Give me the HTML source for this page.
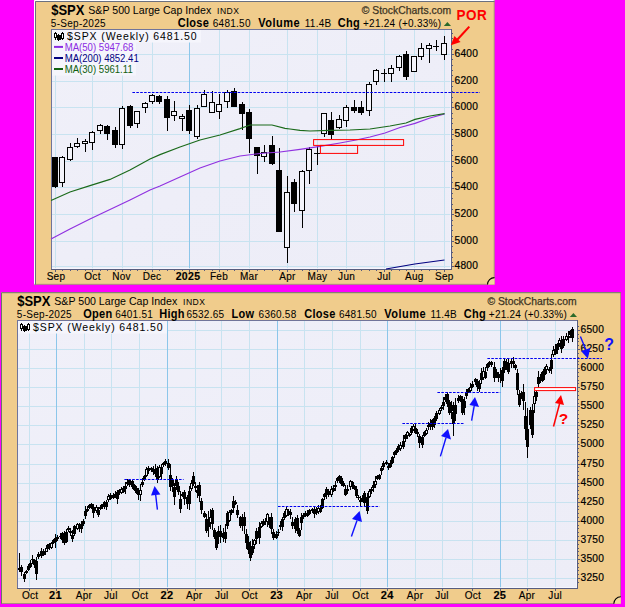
<!DOCTYPE html>
<html><head><meta charset="utf-8"><title>SPX</title><style>html,body{margin:0;padding:0;background:#ff00ff;}svg{display:block;}</style></head><body>
<svg width="625" height="607" viewBox="0 0 625 607" font-family="Liberation Sans, sans-serif">
<defs><linearGradient id="pbg" x1="0" y1="0" x2="1" y2="1"><stop offset="0" stop-color="#f0f0f9"/><stop offset="0.5" stop-color="#eeeef8"/><stop offset="1" stop-color="#ededf7"/></linearGradient></defs>
<rect width="625" height="607" fill="#ff00ff"/>
<rect x="34" y="0" width="460.5" height="284.6" fill="#f0cc8c"/>
<path d="M34.5,284.6V0.5H494.5" stroke="#ffffff" stroke-width="1" fill="none"/>
<path d="M35.5,284.6V1.5H494.5" stroke="#6a7080" stroke-width="1" fill="none"/>
<path d="M494.2,0V284.3H34" stroke="#7a8068" stroke-width="0.6" fill="none"/>
<path d="M487.5,284.6A7,7 0 0 1 494.5,277.6L494.5,284.6Z" fill="#f3d79c"/>
<path d="M487.5,284.6A7,7 0 0 1 494.5,277.6" stroke="#000" stroke-width="1.1" fill="none"/>
<rect x="51" y="29" width="401.0" height="241.0" fill="url(#pbg)"/>
<path d="M51,54.5H451.5M51,81.5H451.5M51,107.5H451.5M51,134.5H451.5M51,161.5H451.5M51,187.5H451.5M51,214.5H451.5M51,241.5H451.5M51,266.5H451.5M55.5,29V269.5M92.5,29V269.5M122.5,29V269.5M152.5,29V269.5M189.5,29V269.5M219.5,29V269.5M249.5,29V269.5M287.5,29V269.5M317.5,29V269.5M346.5,29V269.5M384.5,29V269.5M414.5,29V269.5M444.5,29V269.5" stroke="#b0dcec" stroke-width="1" fill="none" opacity="0.62" shape-rendering="crispEdges"/>
<path d="M189.5,29V269.5" stroke="#8cc6ea" stroke-width="1" fill="none" shape-rendering="crispEdges"/>
<path d="M51.5,269.5V29.5H451.5" stroke="#70749a" stroke-width="1" fill="none" shape-rendering="crispEdges"/>
<path d="M450.5,30V268.5H52" stroke="#fafaff" stroke-width="1" fill="none" opacity="0.7" shape-rendering="crispEdges"/>
<path d="M451.5,29V269.5H51" stroke="#585c7e" stroke-width="1" fill="none" shape-rendering="crispEdges"/>
<g shape-rendering="crispEdges">
<rect x="55" y="157" width="1" height="31" fill="#000"/>
<rect x="52" y="157" width="6" height="30" fill="#000"/>
<rect x="62" y="156" width="1" height="31" fill="#000"/>
<rect x="59" y="157" width="6" height="26" fill="#000"/>
<rect x="60" y="158" width="4" height="24" fill="#f4f4fb"/>
<rect x="70" y="143" width="1" height="18" fill="#000"/>
<rect x="67" y="147" width="6" height="13" fill="#000"/>
<rect x="68" y="148" width="4" height="11" fill="#f4f4fb"/>
<rect x="77" y="138" width="1" height="10" fill="#000"/>
<rect x="74" y="143" width="6" height="4" fill="#000"/>
<rect x="75" y="144" width="4" height="2" fill="#f4f4fb"/>
<rect x="85" y="139" width="1" height="13" fill="#000"/>
<rect x="82" y="141" width="6" height="3" fill="#000"/>
<rect x="83" y="142" width="4" height="1" fill="#f4f4fb"/>
<rect x="92" y="131" width="1" height="19" fill="#000"/>
<rect x="89" y="132" width="6" height="11" fill="#000"/>
<rect x="90" y="133" width="4" height="9" fill="#f4f4fb"/>
<rect x="100" y="124" width="1" height="10" fill="#000"/>
<rect x="97" y="125" width="6" height="6" fill="#000"/>
<rect x="98" y="126" width="4" height="4" fill="#f4f4fb"/>
<rect x="107" y="125" width="1" height="15" fill="#000"/>
<rect x="104" y="126" width="6" height="8" fill="#000"/>
<rect x="115" y="127" width="1" height="21" fill="#000"/>
<rect x="112" y="130" width="6" height="15" fill="#000"/>
<rect x="122" y="106" width="1" height="43" fill="#000"/>
<rect x="119" y="108" width="6" height="37" fill="#000"/>
<rect x="120" y="109" width="4" height="35" fill="#f4f4fb"/>
<rect x="130" y="105" width="1" height="23" fill="#000"/>
<rect x="127" y="106" width="6" height="20" fill="#000"/>
<rect x="137" y="111" width="1" height="17" fill="#000"/>
<rect x="134" y="111" width="6" height="13" fill="#000"/>
<rect x="135" y="112" width="4" height="11" fill="#f4f4fb"/>
<rect x="145" y="102" width="1" height="11" fill="#000"/>
<rect x="142" y="103" width="6" height="5" fill="#000"/>
<rect x="143" y="104" width="4" height="3" fill="#f4f4fb"/>
<rect x="152" y="94" width="1" height="10" fill="#000"/>
<rect x="149" y="95" width="6" height="7" fill="#000"/>
<rect x="150" y="96" width="4" height="5" fill="#f4f4fb"/>
<rect x="159" y="95" width="1" height="9" fill="#000"/>
<rect x="156" y="96" width="6" height="6" fill="#000"/>
<rect x="167" y="96" width="1" height="35" fill="#000"/>
<rect x="164" y="99" width="6" height="19" fill="#000"/>
<rect x="174" y="101" width="1" height="20" fill="#000"/>
<rect x="171" y="111" width="6" height="5" fill="#000"/>
<rect x="172" y="112" width="4" height="3" fill="#f4f4fb"/>
<rect x="182" y="114" width="1" height="17" fill="#000"/>
<rect x="179" y="116" width="6" height="3" fill="#000"/>
<rect x="180" y="117" width="4" height="1" fill="#f4f4fb"/>
<rect x="189" y="105" width="1" height="29" fill="#000"/>
<rect x="186" y="110" width="6" height="21" fill="#000"/>
<rect x="197" y="105" width="1" height="34" fill="#000"/>
<rect x="194" y="108" width="6" height="29" fill="#000"/>
<rect x="195" y="109" width="4" height="27" fill="#f4f4fb"/>
<rect x="204" y="90" width="1" height="17" fill="#000"/>
<rect x="201" y="94" width="6" height="13" fill="#000"/>
<rect x="202" y="95" width="4" height="11" fill="#f4f4fb"/>
<rect x="212" y="91" width="1" height="22" fill="#000"/>
<rect x="209" y="102" width="6" height="11" fill="#000"/>
<rect x="210" y="103" width="4" height="9" fill="#f4f4fb"/>
<rect x="219" y="94" width="1" height="25" fill="#000"/>
<rect x="216" y="104" width="6" height="8" fill="#000"/>
<rect x="217" y="105" width="4" height="6" fill="#f4f4fb"/>
<rect x="227" y="90" width="1" height="18" fill="#000"/>
<rect x="224" y="92" width="6" height="10" fill="#000"/>
<rect x="225" y="93" width="4" height="8" fill="#f4f4fb"/>
<rect x="234" y="88" width="1" height="19" fill="#000"/>
<rect x="231" y="91" width="6" height="16" fill="#000"/>
<rect x="242" y="102" width="1" height="28" fill="#000"/>
<rect x="239" y="104" width="6" height="10" fill="#000"/>
<rect x="249" y="109" width="1" height="44" fill="#000"/>
<rect x="246" y="112" width="6" height="27" fill="#000"/>
<rect x="257" y="147" width="1" height="27" fill="#000"/>
<rect x="254" y="147" width="6" height="9" fill="#000"/>
<rect x="264" y="145" width="1" height="17" fill="#000"/>
<rect x="261" y="152" width="6" height="5" fill="#000"/>
<rect x="262" y="153" width="4" height="3" fill="#f4f4fb"/>
<rect x="272" y="136" width="1" height="29" fill="#000"/>
<rect x="269" y="145" width="6" height="19" fill="#000"/>
<rect x="279" y="148" width="1" height="84" fill="#000"/>
<rect x="276" y="170" width="6" height="62" fill="#000"/>
<rect x="287" y="176" width="1" height="87" fill="#000"/>
<rect x="284" y="192" width="6" height="56" fill="#000"/>
<rect x="285" y="193" width="4" height="54" fill="#f4f4fb"/>
<rect x="294" y="179" width="1" height="33" fill="#000"/>
<rect x="291" y="182" width="6" height="22" fill="#000"/>
<rect x="302" y="170" width="1" height="58" fill="#000"/>
<rect x="299" y="171" width="6" height="40" fill="#000"/>
<rect x="300" y="172" width="4" height="38" fill="#f4f4fb"/>
<rect x="309" y="147" width="1" height="37" fill="#000"/>
<rect x="306" y="149" width="6" height="22" fill="#000"/>
<rect x="307" y="150" width="4" height="20" fill="#f4f4fb"/>
<rect x="317" y="146" width="1" height="19" fill="#000"/>
<rect x="314" y="153" width="6" height="1" fill="#000"/>
<rect x="324" y="113" width="1" height="24" fill="#000"/>
<rect x="321" y="113" width="6" height="21" fill="#000"/>
<rect x="322" y="114" width="4" height="19" fill="#f4f4fb"/>
<rect x="331" y="112" width="1" height="27" fill="#000"/>
<rect x="328" y="120" width="6" height="15" fill="#000"/>
<rect x="339" y="115" width="1" height="14" fill="#000"/>
<rect x="336" y="119" width="6" height="9" fill="#000"/>
<rect x="337" y="120" width="4" height="7" fill="#f4f4fb"/>
<rect x="346" y="105" width="1" height="22" fill="#000"/>
<rect x="343" y="107" width="6" height="14" fill="#000"/>
<rect x="344" y="108" width="4" height="12" fill="#f4f4fb"/>
<rect x="354" y="100" width="1" height="13" fill="#000"/>
<rect x="351" y="107" width="6" height="4" fill="#000"/>
<rect x="361" y="101" width="1" height="14" fill="#000"/>
<rect x="358" y="107" width="6" height="6" fill="#000"/>
<rect x="369" y="82" width="1" height="34" fill="#000"/>
<rect x="366" y="84" width="6" height="27" fill="#000"/>
<rect x="367" y="85" width="4" height="25" fill="#f4f4fb"/>
<rect x="376" y="69" width="1" height="16" fill="#000"/>
<rect x="373" y="70" width="6" height="12" fill="#000"/>
<rect x="374" y="71" width="4" height="10" fill="#f4f4fb"/>
<rect x="384" y="69" width="1" height="13" fill="#000"/>
<rect x="381" y="73" width="6" height="1" fill="#000"/>
<rect x="391" y="65" width="1" height="17" fill="#000"/>
<rect x="388" y="68" width="6" height="6" fill="#000"/>
<rect x="389" y="69" width="4" height="4" fill="#f4f4fb"/>
<rect x="399" y="55" width="1" height="16" fill="#000"/>
<rect x="396" y="56" width="6" height="12" fill="#000"/>
<rect x="397" y="57" width="4" height="10" fill="#f4f4fb"/>
<rect x="406" y="51" width="1" height="29" fill="#000"/>
<rect x="403" y="54" width="6" height="23" fill="#000"/>
<rect x="414" y="56" width="1" height="16" fill="#000"/>
<rect x="411" y="56" width="6" height="16" fill="#000"/>
<rect x="412" y="57" width="4" height="14" fill="#f4f4fb"/>
<rect x="421" y="43" width="1" height="17" fill="#000"/>
<rect x="418" y="48" width="6" height="9" fill="#000"/>
<rect x="419" y="49" width="4" height="7" fill="#f4f4fb"/>
<rect x="429" y="43" width="1" height="20" fill="#000"/>
<rect x="426" y="45" width="6" height="4" fill="#000"/>
<rect x="427" y="46" width="4" height="2" fill="#f4f4fb"/>
<rect x="436" y="40" width="1" height="11" fill="#000"/>
<rect x="433" y="46" width="6" height="1" fill="#000"/>
<rect x="444" y="36" width="1" height="24" fill="#000"/>
<rect x="441" y="43" width="6" height="12" fill="#000"/>
<rect x="442" y="44" width="4" height="10" fill="#f4f4fb"/>
</g>
<path d="M386.0,269.0 L414.8,264.0 L444.5,260.0" stroke="#000080" stroke-width="1.15" fill="none"/>
<path d="M51.0,239.0 L70.0,229.0 L90.0,219.0 L110.0,209.5 L130.0,200.0 L150.0,190.0 L160.0,186.0 L180.0,177.0 L200.0,168.0 L220.0,161.0 L240.0,156.0 L260.0,153.5 L280.0,152.0 L300.0,149.4 L320.0,146.4 L340.0,143.0 L356.0,140.0 L370.0,137.0 L385.0,133.0 L400.0,127.5 L415.0,123.4 L430.0,118.0 L444.6,114.0" stroke="#9030e0" stroke-width="1.15" fill="none"/>
<path d="M51.0,200.5 L70.0,192.0 L90.0,185.6 L110.0,179.4 L130.0,170.0 L150.0,159.0 L160.0,154.6 L180.0,147.0 L200.0,140.0 L220.0,135.0 L240.0,128.6 L250.0,125.0 L272.0,125.0 L285.0,128.4 L290.0,129.0 L300.0,130.4 L310.0,131.0 L330.0,130.4 L350.0,130.0 L370.0,129.0 L390.0,126.0 L406.0,123.0 L415.0,119.4 L430.0,116.0 L444.6,113.6" stroke="#1a6a1a" stroke-width="1.15" fill="none"/>
<path d="M132.4,92.5H480" stroke="#0000f0" stroke-width="1" stroke-dasharray="2.6,1.3" fill="none"/>
<rect x="313.6" y="139.6" width="90" height="5.8" fill="none" stroke="#ff0000" stroke-width="1"/>
<rect x="320.4" y="145.4" width="37.2" height="8" fill="none" stroke="#ff0000" stroke-width="1"/>
<path d="M452.0,266.5h2M452.0,262.5h1M452.0,257.5h1M452.0,252.5h1M452.0,246.5h1M452.0,241.5h2M452.0,236.5h1M452.0,230.5h1M452.0,225.5h1M452.0,220.5h1M452.0,214.5h2M452.0,209.5h1M452.0,204.5h1M452.0,198.5h1M452.0,193.5h1M452.0,188.5h2M452.0,182.5h1M452.0,177.5h1M452.0,171.5h1M452.0,166.5h1M452.0,161.5h2M452.0,155.5h1M452.0,150.5h1M452.0,145.5h1M452.0,139.5h1M452.0,134.5h2M452.0,129.5h1M452.0,123.5h1M452.0,118.5h1M452.0,113.5h1M452.0,107.5h2M452.0,102.5h1M452.0,97.5h1M452.0,91.5h1M452.0,86.5h1M452.0,81.5h2M452.0,75.5h1M452.0,70.5h1M452.0,65.5h1M452.0,59.5h1M452.0,54.5h2M452.0,49.5h1M452.0,43.5h1M452.0,38.5h1M452.0,33.5h1M55.5,270.0v1M62.5,270.0v1M70.5,270.0v1M77.5,270.0v1M85.5,270.0v1M92.5,270.0v1M100.5,270.0v1M107.5,270.0v1M115.5,270.0v1M122.5,270.0v1M130.5,270.0v1M137.5,270.0v1M145.5,270.0v1M152.5,270.0v1M159.5,270.0v1M167.5,270.0v1M174.5,270.0v1M182.5,270.0v1M189.5,270.0v1M197.5,270.0v1M204.5,270.0v1M212.5,270.0v1M219.5,270.0v1M227.5,270.0v1M234.5,270.0v1M242.5,270.0v1M249.5,270.0v1M257.5,270.0v1M264.5,270.0v1M272.5,270.0v1M279.5,270.0v1M287.5,270.0v1M294.5,270.0v1M302.5,270.0v1M309.5,270.0v1M317.5,270.0v1M324.5,270.0v1M331.5,270.0v1M339.5,270.0v1M346.5,270.0v1M354.5,270.0v1M361.5,270.0v1M369.5,270.0v1M376.5,270.0v1M384.5,270.0v1M391.5,270.0v1M399.5,270.0v1M406.5,270.0v1M414.5,270.0v1M421.5,270.0v1M429.5,270.0v1M436.5,270.0v1M444.5,270.0v1M55.5,270.0v2M92.5,270.0v2M122.5,270.0v2M152.5,270.0v2M189.5,270.0v2M219.5,270.0v2M249.5,270.0v2M287.5,270.0v2M317.5,270.0v2M346.5,270.0v2M384.5,270.0v2M414.5,270.0v2M444.5,270.0v2" stroke="#585c7e" stroke-width="1" fill="none" shape-rendering="crispEdges"/>
<text transform="translate(454.5,56.9) scale(1.02,1)" font-size="10" letter-spacing="0.25" stroke="#000" stroke-width="0.2">6400</text>
<text transform="translate(454.5,83.9) scale(1.02,1)" font-size="10" letter-spacing="0.25" stroke="#000" stroke-width="0.2">6200</text>
<text transform="translate(454.5,109.9) scale(1.02,1)" font-size="10" letter-spacing="0.25" stroke="#000" stroke-width="0.2">6000</text>
<text transform="translate(454.5,136.9) scale(1.02,1)" font-size="10" letter-spacing="0.25" stroke="#000" stroke-width="0.2">5800</text>
<text transform="translate(454.5,163.9) scale(1.02,1)" font-size="10" letter-spacing="0.25" stroke="#000" stroke-width="0.2">5600</text>
<text transform="translate(454.5,189.9) scale(1.02,1)" font-size="10" letter-spacing="0.25" stroke="#000" stroke-width="0.2">5400</text>
<text transform="translate(454.5,216.9) scale(1.02,1)" font-size="10" letter-spacing="0.25" stroke="#000" stroke-width="0.2">5200</text>
<text transform="translate(454.5,243.9) scale(1.02,1)" font-size="10" letter-spacing="0.25" stroke="#000" stroke-width="0.2">5000</text>
<text transform="translate(454.5,268.6) scale(1.02,1)" font-size="10" letter-spacing="0.25" stroke="#000" stroke-width="0.2">4800</text>
<text x="56" y="279.7" font-size="10" letter-spacing="0.3" text-anchor="middle" stroke="#000" stroke-width="0.15">Sep</text>
<text x="92.5" y="279.7" font-size="10" letter-spacing="0.3" text-anchor="middle" stroke="#000" stroke-width="0.15">Oct</text>
<text x="121.5" y="279.7" font-size="10" letter-spacing="0.3" text-anchor="middle" stroke="#000" stroke-width="0.15">Nov</text>
<text x="152" y="279.7" font-size="10" letter-spacing="0.3" text-anchor="middle" stroke="#000" stroke-width="0.15">Dec</text>
<text x="188" y="279.7" font-size="10.5" letter-spacing="0.3" text-anchor="middle" stroke="#000" stroke-width="0.15" font-weight="bold">2025</text>
<text x="219" y="279.7" font-size="10" letter-spacing="0.3" text-anchor="middle" stroke="#000" stroke-width="0.15">Feb</text>
<text x="249" y="279.7" font-size="10" letter-spacing="0.3" text-anchor="middle" stroke="#000" stroke-width="0.15">Mar</text>
<text x="287.4" y="279.7" font-size="10" letter-spacing="0.3" text-anchor="middle" stroke="#000" stroke-width="0.15">Apr</text>
<text x="317.4" y="279.7" font-size="10" letter-spacing="0.3" text-anchor="middle" stroke="#000" stroke-width="0.15">May</text>
<text x="346.6" y="279.7" font-size="10" letter-spacing="0.3" text-anchor="middle" stroke="#000" stroke-width="0.15">Jun</text>
<text x="384" y="279.7" font-size="10" letter-spacing="0.3" text-anchor="middle" stroke="#000" stroke-width="0.15">Jul</text>
<text x="414.3" y="279.7" font-size="10" letter-spacing="0.3" text-anchor="middle" stroke="#000" stroke-width="0.15">Aug</text>
<text x="444.3" y="279.7" font-size="10" letter-spacing="0.3" text-anchor="middle" stroke="#000" stroke-width="0.15">Sep</text>
<text transform="translate(51.2,14.8) scale(1,1.1)" font-size="13" font-weight="bold">$SPX</text>
<text x="88.3" y="14" font-size="10.6">S&amp;P 500 Large Cap Index</text>
<text x="217" y="14" font-size="8.6" letter-spacing="0.5">INDX</text>
<text x="50.8" y="27.2" font-size="10" letter-spacing="0.28">5-Sep-2025</text>
<text transform="translate(177.7,27) scale(1,1.08)" font-size="11" font-weight="bold" letter-spacing="0.3">Close</text>
<text x="212.8" y="27" font-size="10" letter-spacing="0.25">6481.50</text>
<text transform="translate(258.3,27) scale(1,1.08)" font-size="11" font-weight="bold" letter-spacing="0.5">Volume</text>
<text x="304.8" y="27" font-size="10" letter-spacing="0.25">11.4B</text>
<text transform="translate(337.8,27) scale(1,1.08)" font-size="11" font-weight="bold" letter-spacing="0.3">Chg</text>
<text x="363" y="27" font-size="10" letter-spacing="0.25">+21.24 (+0.33%)</text>
<path d="M443.8,25.9L447.4,22L451,25.9Z" fill="#2a6a2a"/>
<text x="361.8" y="14" font-size="10.35" fill="#3c3424" stroke="#3c3424" stroke-width="0.25">© StockCharts.com</text>
<text transform="translate(456.6,19.9) scale(1,1.08)" font-size="13.5" font-weight="bold" letter-spacing="0.5" fill="#ff0000">POR</text>
<path d="M469.3,26.6L457,40" stroke="#ff0000" stroke-width="2.1" fill="none"/>
<path d="M450.8,45.3L454.4,35.9L460.6,42Z" fill="#ff0000"/>
<rect x="52" y="30" width="149" height="12.5" fill="#f5f5fc"/>
<rect x="52" y="42.5" width="84" height="33" fill="#f5f5fc"/>
<g shape-rendering="crispEdges">
<rect x="55" y="32" width="1" height="8" fill="#000"/>
<rect x="54" y="33" width="3" height="5" fill="#000"/><rect x="55" y="34" width="1" height="3" fill="#fff"/>
<rect x="57" y="35" width="4" height="5" fill="#000"/><rect x="58" y="34" width="1" height="7" fill="#000"/>
<rect x="62" y="32" width="1" height="8" fill="#000"/>
<rect x="61" y="33" width="3" height="6" fill="#000"/><rect x="62" y="34" width="1" height="4" fill="#fff"/>
</g>
<text transform="translate(67.1,40.2)" font-size="10.5" letter-spacing="0.88">$SPX (Weekly) 6481.50</text>
<path d="M54,46.900000000000006H63" stroke="#8a2be2" stroke-width="2"/>
<text transform="translate(64.7,50.7) scale(1,1.1)" font-size="9.6" fill="#8a2be2">MA(50) 5947.68</text>
<path d="M54,58.0H63" stroke="#000080" stroke-width="2"/>
<text transform="translate(64.7,61.8) scale(1,1.1)" font-size="9.6" fill="#000080">MA(200) 4852.41</text>
<path d="M54,69.0H63" stroke="#106010" stroke-width="2"/>
<text transform="translate(64.7,72.8) scale(1,1.1)" font-size="9.6" fill="#106010">MA(30) 5961.11</text>
<rect x="1" y="292.2" width="619.8" height="311.59999999999997" fill="#f0cc8c"/>
<path d="M1.5,603.8V292.7H620.8" stroke="#6a7868" stroke-width="1" fill="none"/>
<path d="M620.5,292.2V603.5H1" stroke="#7a8068" stroke-width="0.6" fill="none"/>
<path d="M613.8,603.8A7,7 0 0 1 620.8,596.8L620.8,603.8Z" fill="#f3d79c"/>
<path d="M613.8,603.8A7,7 0 0 1 620.8,596.8" stroke="#000" stroke-width="1.1" fill="none"/>
<rect x="17" y="320" width="561.0" height="269.0" fill="url(#pbg)"/>
<path d="M17,578.5H577.5M17,559.5H577.5M17,540.5H577.5M17,521.5H577.5M17,502.5H577.5M17,483.5H577.5M17,464.5H577.5M17,444.5H577.5M17,425.5H577.5M17,406.5H577.5M17,387.5H577.5M17,368.5H577.5M17,349.5H577.5M17,330.5H577.5M29.5,320V588.5M56.5,320V588.5M84.5,320V588.5M111.5,320V588.5M139.5,320V588.5M167.5,320V588.5M195.5,320V588.5M221.5,320V588.5M249.5,320V588.5M277.5,320V588.5M304.5,320V588.5M332.5,320V588.5M360.5,320V588.5M387.5,320V588.5M415.5,320V588.5M442.5,320V588.5M472.5,320V588.5M500.5,320V588.5M527.5,320V588.5M555.5,320V588.5" stroke="#b0dcec" stroke-width="1" fill="none" opacity="0.62" shape-rendering="crispEdges"/>
<path d="M56.5,320V588.5M167.5,320V588.5M277.5,320V588.5M387.5,320V588.5M500.5,320V588.5" stroke="#8cc6ea" stroke-width="1" fill="none" shape-rendering="crispEdges"/>
<path d="M17.5,588.5V320.5H577.5" stroke="#70749a" stroke-width="1" fill="none" shape-rendering="crispEdges"/>
<path d="M576.5,321V587.5H18" stroke="#fafaff" stroke-width="1" fill="none" opacity="0.7" shape-rendering="crispEdges"/>
<path d="M577.5,320V588.5H17" stroke="#585c7e" stroke-width="1" fill="none" shape-rendering="crispEdges"/>
<g shape-rendering="crispEdges">
<path d="M19,553h1V572h-1ZM21,565h1V576h-1ZM24,572h1V582h-1ZM26,570h1V574h-1ZM28,564h1V571h-1ZM30,560h1V568h-1ZM32,555h1V564h-1ZM34,559h1V568h-1ZM36,557h1V580h-1ZM38,552h1V559h-1ZM41,548h1V558h-1ZM43,549h1V556h-1ZM45,548h1V555h-1ZM47,544h1V552h-1ZM49,543h1V550h-1ZM51,542h1V549h-1ZM53,539h1V544h-1ZM55,534h1V548h-1ZM57,535h1V541h-1ZM60,533h1V539h-1ZM62,532h1V543h-1ZM64,531h1V545h-1ZM66,529h1V543h-1ZM68,526h1V532h-1ZM70,528h1V536h-1ZM72,530h1V542h-1ZM74,525h1V536h-1ZM77,523h1V530h-1ZM79,523h1V532h-1ZM81,521h1V533h-1ZM83,519h1V526h-1ZM85,506h1V519h-1ZM87,506h1V512h-1ZM89,504h1V509h-1ZM91,503h1V509h-1ZM93,504h1V518h-1ZM96,505h1V513h-1ZM98,507h1V517h-1ZM100,505h1V510h-1ZM102,504h1V509h-1ZM104,501h1V509h-1ZM106,500h1V510h-1ZM108,494h1V502h-1ZM110,493h1V500h-1ZM113,493h1V499h-1ZM115,491h1V498h-1ZM117,490h1V504h-1ZM119,489h1V495h-1ZM121,487h1V494h-1ZM123,486h1V493h-1ZM125,482h1V494h-1ZM127,479h1V486h-1ZM129,479h1V487h-1ZM132,480h1V489h-1ZM134,484h1V491h-1ZM136,486h1V494h-1ZM138,488h1V500h-1ZM140,484h1V501h-1ZM142,478h1V487h-1ZM144,475h1V481h-1ZM146,467h1V477h-1ZM148,466h1V474h-1ZM151,467h1V472h-1ZM153,466h1V475h-1ZM155,464h1V477h-1ZM157,466h1V483h-1ZM159,465h1V478h-1ZM161,464h1V480h-1ZM163,462h1V467h-1ZM165,459h1V466h-1ZM168,459h1V470h-1ZM170,464h1V491h-1ZM172,478h1V492h-1ZM174,483h1V505h-1ZM176,476h1V490h-1ZM178,482h1V495h-1ZM180,491h1V513h-1ZM182,492h1V497h-1ZM184,490h1V505h-1ZM187,495h1V509h-1ZM189,486h1V510h-1ZM191,480h1V491h-1ZM193,472h1V486h-1ZM195,482h1V492h-1ZM197,485h1V498h-1ZM199,482h1V502h-1ZM201,498h1V514h-1ZM204,511h1V518h-1ZM206,514h1V533h-1ZM208,511h1V537h-1ZM210,509h1V529h-1ZM212,508h1V530h-1ZM214,528h1V539h-1ZM216,532h1V550h-1ZM218,526h1V544h-1ZM220,525h1V543h-1ZM223,528h1V542h-1ZM225,524h1V543h-1ZM227,511h1V529h-1ZM229,510h1V522h-1ZM231,509h1V515h-1ZM233,496h1V513h-1ZM235,500h1V505h-1ZM237,505h1V518h-1ZM240,516h1V528h-1ZM242,514h1V531h-1ZM244,512h1V534h-1ZM246,529h1V549h-1ZM248,536h1V554h-1ZM250,541h1V561h-1ZM252,539h1V555h-1ZM254,539h1V549h-1ZM256,528h1V544h-1ZM259,522h1V544h-1ZM261,521h1V528h-1ZM263,519h1V526h-1ZM265,518h1V525h-1ZM267,513h1V527h-1ZM269,517h1V528h-1ZM271,513h1V534h-1ZM273,529h1V540h-1ZM276,531h1V539h-1ZM278,529h1V536h-1ZM280,521h1V530h-1ZM282,517h1V531h-1ZM284,511h1V520h-1ZM286,507h1V517h-1ZM288,509h1V516h-1ZM290,509h1V519h-1ZM292,517h1V529h-1ZM295,517h1V533h-1ZM297,515h1V534h-1ZM299,528h1V537h-1ZM301,513h1V530h-1ZM303,513h1V519h-1ZM305,511h1V517h-1ZM307,510h1V517h-1ZM309,509h1V515h-1ZM312,508h1V513h-1ZM314,507h1V518h-1ZM316,507h1V515h-1ZM318,505h1V514h-1ZM320,505h1V513h-1ZM322,498h1V509h-1ZM324,493h1V500h-1ZM326,487h1V499h-1ZM328,489h1V497h-1ZM331,486h1V497h-1ZM333,485h1V492h-1ZM335,481h1V491h-1ZM337,477h1V483h-1ZM339,475h1V483h-1ZM341,476h1V486h-1ZM343,481h1V487h-1ZM345,485h1V496h-1ZM347,485h1V494h-1ZM350,480h1V490h-1ZM352,481h1V489h-1ZM354,485h1V490h-1ZM356,486h1V498h-1ZM358,495h1V500h-1ZM360,496h1V506h-1ZM362,495h1V502h-1ZM364,491h1V506h-1ZM367,493h1V514h-1ZM369,489h1V498h-1ZM371,487h1V494h-1ZM373,481h1V492h-1ZM375,476h1V488h-1ZM377,475h1V480h-1ZM379,474h1V480h-1ZM381,466h1V475h-1ZM383,461h1V470h-1ZM386,460h1V465h-1ZM388,463h1V470h-1ZM390,460h1V468h-1ZM392,456h1V464h-1ZM394,451h1V458h-1ZM396,448h1V455h-1ZM398,444h1V452h-1ZM400,442h1V451h-1ZM403,435h1V449h-1ZM405,434h1V442h-1ZM407,431h1V439h-1ZM409,433h1V437h-1ZM411,426h1V435h-1ZM413,424h1V431h-1ZM415,424h1V434h-1ZM417,429h1V437h-1ZM419,434h1V448h-1ZM422,435h1V448h-1ZM424,431h1V437h-1ZM426,428h1V435h-1ZM428,422h1V430h-1ZM430,419h1V430h-1ZM432,419h1V430h-1ZM434,416h1V428h-1ZM436,411h1V421h-1ZM439,408h1V415h-1ZM441,405h1V411h-1ZM443,397h1V410h-1ZM445,394h1V402h-1ZM447,392h1V407h-1ZM449,400h1V415h-1ZM451,401h1V419h-1ZM453,402h1V436h-1ZM455,398h1V421h-1ZM458,395h1V403h-1ZM460,395h1V402h-1ZM462,396h1V415h-1ZM464,397h1V415h-1ZM466,389h1V399h-1ZM468,388h1V393h-1ZM470,383h1V393h-1ZM472,381h1V388h-1ZM475,378h1V385h-1ZM477,379h1V391h-1ZM479,380h1V392h-1ZM481,368h1V384h-1ZM483,367h1V380h-1ZM485,367h1V379h-1ZM487,363h1V371h-1ZM489,361h1V367h-1ZM491,361h1V367h-1ZM494,362h1V382h-1ZM496,369h1V378h-1ZM498,372h1V382h-1ZM500,368h1V383h-1ZM502,367h1V387h-1ZM504,358h1V373h-1ZM506,359h1V370h-1ZM508,359h1V374h-1ZM511,358h1V368h-1ZM513,357h1V368h-1ZM515,364h1V370h-1ZM517,369h1V395h-1ZM519,390h1V407h-1ZM521,391h1V399h-1ZM523,384h1V410h-1ZM525,402h1V440h-1ZM527,408h1V458h-1ZM530,407h1V429h-1ZM532,404h1V438h-1ZM534,391h1V413h-1ZM536,388h1V401h-1ZM538,371h1V389h-1ZM540,374h1V383h-1ZM542,371h1V382h-1ZM544,367h1V380h-1ZM546,364h1V374h-1ZM549,367h1V373h-1ZM551,354h1V374h-1ZM553,346h1V357h-1ZM555,344h1V355h-1ZM557,343h1V354h-1ZM559,338h1V347h-1ZM561,336h1V353h-1ZM563,336h1V348h-1ZM566,333h1V341h-1ZM568,331h1V343h-1ZM570,330h1V338h-1ZM572,327h1V342h-1ZM18,568h3V570h-3ZM20,567h3V572h-3ZM23,574h3V579h-3ZM25,571h3V573h-3ZM27,566h3V570h-3ZM29,563h3V567h-3ZM31,559h3V560h-3ZM33,560h3V565h-3ZM35,561h3V574h-3ZM37,554h3V557h-3ZM40,551h3V556h-3ZM42,551h3V555h-3ZM44,551h3V552h-3ZM46,545h3V549h-3ZM48,544h3V548h-3ZM50,543h3V548h-3ZM52,540h3V543h-3ZM54,538h3V542h-3ZM56,537h3V539h-3ZM59,536h3V537h-3ZM61,533h3V540h-3ZM63,534h3V543h-3ZM65,532h3V542h-3ZM67,528h3V530h-3ZM69,531h3V533h-3ZM71,535h3V539h-3ZM73,526h3V534h-3ZM76,524h3V529h-3ZM78,525h3V528h-3ZM80,524h3V529h-3ZM82,521h3V524h-3ZM84,511h3V516h-3ZM86,509h3V511h-3ZM88,505h3V508h-3ZM90,504h3V507h-3ZM92,507h3V513h-3ZM95,507h3V511h-3ZM97,510h3V515h-3ZM99,507h3V509h-3ZM101,504h3V507h-3ZM103,502h3V506h-3ZM105,502h3V507h-3ZM107,496h3V500h-3ZM109,495h3V499h-3ZM112,495h3V498h-3ZM114,494h3V495h-3ZM116,492h3V499h-3ZM118,490h3V493h-3ZM120,489h3V493h-3ZM122,488h3V492h-3ZM124,486h3V489h-3ZM126,482h3V484h-3ZM128,480h3V485h-3ZM131,481h3V487h-3ZM133,485h3V490h-3ZM135,488h3V493h-3ZM137,492h3V495h-3ZM139,490h3V495h-3ZM141,482h3V485h-3ZM143,476h3V480h-3ZM145,469h3V476h-3ZM147,468h3V471h-3ZM150,468h3V470h-3ZM152,469h3V472h-3ZM154,469h3V474h-3ZM156,468h3V480h-3ZM158,467h3V477h-3ZM160,467h3V474h-3ZM162,463h3V465h-3ZM164,461h3V464h-3ZM167,463h3V468h-3ZM169,475h3V487h-3ZM171,480h3V486h-3ZM173,487h3V497h-3ZM175,479h3V486h-3ZM177,486h3V492h-3ZM179,499h3V509h-3ZM181,494h3V496h-3ZM183,492h3V499h-3ZM186,497h3V504h-3ZM188,491h3V504h-3ZM190,483h3V489h-3ZM192,476h3V484h-3ZM194,486h3V488h-3ZM196,490h3V493h-3ZM198,485h3V496h-3ZM200,501h3V510h-3ZM203,513h3V517h-3ZM205,519h3V531h-3ZM207,520h3V527h-3ZM209,517h3V523h-3ZM211,510h3V524h-3ZM213,530h3V537h-3ZM215,536h3V548h-3ZM217,531h3V536h-3ZM219,531h3V537h-3ZM222,533h3V538h-3ZM224,532h3V539h-3ZM226,513h3V526h-3ZM228,512h3V521h-3ZM230,510h3V513h-3ZM232,501h3V508h-3ZM234,502h3V504h-3ZM236,510h3V515h-3ZM239,517h3V526h-3ZM241,517h3V524h-3ZM243,517h3V526h-3ZM245,534h3V543h-3ZM247,542h3V550h-3ZM249,548h3V558h-3ZM251,546h3V553h-3ZM253,540h3V545h-3ZM255,531h3V539h-3ZM258,527h3V538h-3ZM260,523h3V527h-3ZM262,521h3V525h-3ZM264,521h3V522h-3ZM266,514h3V522h-3ZM268,519h3V525h-3ZM270,517h3V529h-3ZM272,532h3V538h-3ZM275,534h3V538h-3ZM277,532h3V533h-3ZM279,525h3V527h-3ZM281,519h3V527h-3ZM283,513h3V518h-3ZM285,509h3V516h-3ZM287,511h3V513h-3ZM289,512h3V515h-3ZM291,522h3V526h-3ZM294,519h3V529h-3ZM296,518h3V531h-3ZM298,530h3V536h-3ZM300,517h3V523h-3ZM302,515h3V517h-3ZM304,513h3V515h-3ZM306,513h3V516h-3ZM308,510h3V514h-3ZM311,509h3V511h-3ZM313,510h3V514h-3ZM315,509h3V513h-3ZM317,508h3V512h-3ZM319,508h3V512h-3ZM321,499h3V508h-3ZM323,494h3V497h-3ZM325,489h3V495h-3ZM327,491h3V495h-3ZM330,489h3V495h-3ZM332,488h3V491h-3ZM334,485h3V487h-3ZM336,478h3V481h-3ZM338,476h3V481h-3ZM340,478h3V484h-3ZM342,483h3V486h-3ZM344,489h3V495h-3ZM346,489h3V491h-3ZM349,481h3V487h-3ZM351,482h3V487h-3ZM353,486h3V489h-3ZM355,489h3V496h-3ZM357,497h3V498h-3ZM359,500h3V502h-3ZM361,498h3V500h-3ZM363,493h3V503h-3ZM366,497h3V511h-3ZM368,491h3V497h-3ZM370,489h3V491h-3ZM372,485h3V488h-3ZM374,481h3V485h-3ZM376,476h3V479h-3ZM378,475h3V479h-3ZM380,468h3V471h-3ZM382,463h3V467h-3ZM385,462h3V464h-3ZM387,466h3V468h-3ZM389,463h3V467h-3ZM391,457h3V463h-3ZM393,452h3V455h-3ZM395,450h3V453h-3ZM397,446h3V450h-3ZM399,445h3V449h-3ZM402,441h3V447h-3ZM404,435h3V439h-3ZM406,432h3V436h-3ZM408,434h3V436h-3ZM410,428h3V433h-3ZM412,426h3V430h-3ZM414,428h3V433h-3ZM416,432h3V434h-3ZM418,436h3V443h-3ZM421,437h3V445h-3ZM423,432h3V436h-3ZM425,430h3V434h-3ZM427,425h3V427h-3ZM429,423h3V426h-3ZM431,420h3V427h-3ZM433,418h3V425h-3ZM435,413h3V419h-3ZM438,410h3V414h-3ZM440,407h3V409h-3ZM442,402h3V406h-3ZM444,397h3V400h-3ZM446,394h3V404h-3ZM448,402h3V413h-3ZM450,405h3V411h-3ZM452,412h3V424h-3ZM454,405h3V414h-3ZM457,398h3V401h-3ZM459,396h3V401h-3ZM461,399h3V413h-3ZM463,401h3V408h-3ZM465,392h3V396h-3ZM467,389h3V392h-3ZM469,387h3V391h-3ZM471,384h3V387h-3ZM474,379h3V382h-3ZM476,381h3V387h-3ZM478,383h3V389h-3ZM480,373h3V380h-3ZM482,371h3V378h-3ZM484,372h3V378h-3ZM486,364h3V368h-3ZM488,362h3V365h-3ZM490,362h3V365h-3ZM493,367h3V378h-3ZM495,372h3V377h-3ZM497,376h3V378h-3ZM499,374h3V378h-3ZM501,370h3V381h-3ZM503,361h3V370h-3ZM505,362h3V368h-3ZM507,363h3V372h-3ZM510,361h3V364h-3ZM512,361h3V364h-3ZM514,365h3V368h-3ZM516,373h3V390h-3ZM518,394h3V405h-3ZM520,393h3V396h-3ZM522,392h3V401h-3ZM524,416h3V429h-3ZM526,429h3V447h-3ZM529,410h3V425h-3ZM531,410h3V435h-3ZM533,396h3V404h-3ZM535,392h3V397h-3ZM537,377h3V384h-3ZM539,378h3V381h-3ZM541,372h3V381h-3ZM543,369h3V375h-3ZM545,366h3V370h-3ZM548,369h3V371h-3ZM550,360h3V369h-3ZM552,350h3V355h-3ZM554,349h3V354h-3ZM556,344h3V350h-3ZM558,340h3V344h-3ZM560,340h3V349h-3ZM562,339h3V346h-3ZM565,336h3V340h-3ZM567,336h3V338h-3ZM569,331h3V335h-3ZM571,329h3V338h-3Z" fill="#000"/>
<path d="M51,544h1V547h-1ZM77,525h1V528h-1ZM96,508h1V510h-1ZM108,497h1V499h-1ZM121,490h1V492h-1ZM140,491h1V494h-1ZM146,470h1V475h-1ZM159,468h1V476h-1ZM191,484h1V488h-1ZM210,518h1V522h-1ZM229,513h1V520h-1ZM254,541h1V544h-1ZM261,524h1V526h-1ZM267,515h1V521h-1ZM286,510h1V515h-1ZM318,509h1V511h-1ZM331,490h1V494h-1ZM350,482h1V486h-1ZM369,492h1V496h-1ZM375,482h1V484h-1ZM400,446h1V448h-1ZM407,433h1V435h-1ZM413,427h1V429h-1ZM426,431h1V433h-1ZM439,411h1V413h-1ZM470,388h1V390h-1ZM483,372h1V377h-1ZM534,397h1V403h-1ZM546,367h1V369h-1ZM553,351h1V354h-1ZM559,341h1V343h-1ZM566,337h1V339h-1Z" fill="#f4f4fb"/>
</g>
<path d="M578.0,582.5h1M578.0,578.5h2M578.0,574.5h1M578.0,570.5h1M578.0,567.5h1M578.0,563.5h1M578.0,559.5h2M578.0,555.5h1M578.0,551.5h1M578.0,548.5h1M578.0,544.5h1M578.0,540.5h2M578.0,536.5h1M578.0,532.5h1M578.0,528.5h1M578.0,525.5h1M578.0,521.5h2M578.0,517.5h1M578.0,513.5h1M578.0,509.5h1M578.0,506.5h1M578.0,502.5h2M578.0,498.5h1M578.0,494.5h1M578.0,490.5h1M578.0,486.5h1M578.0,483.5h2M578.0,479.5h1M578.0,475.5h1M578.0,471.5h1M578.0,467.5h1M578.0,464.5h2M578.0,460.5h1M578.0,456.5h1M578.0,452.5h1M578.0,448.5h1M578.0,444.5h2M578.0,441.5h1M578.0,437.5h1M578.0,433.5h1M578.0,429.5h1M578.0,425.5h2M578.0,422.5h1M578.0,418.5h1M578.0,414.5h1M578.0,410.5h1M578.0,406.5h2M578.0,403.5h1M578.0,399.5h1M578.0,395.5h1M578.0,391.5h1M578.0,387.5h2M578.0,383.5h1M578.0,380.5h1M578.0,376.5h1M578.0,372.5h1M578.0,368.5h2M578.0,364.5h1M578.0,361.5h1M578.0,357.5h1M578.0,353.5h1M578.0,349.5h2M578.0,345.5h1M578.0,341.5h1M578.0,338.5h1M578.0,334.5h1M578.0,330.5h2M578.0,326.5h1M29.5,589.0v2M56.5,589.0v2M84.5,589.0v2M111.5,589.0v2M139.5,589.0v2M167.5,589.0v2M195.5,589.0v2M221.5,589.0v2M249.5,589.0v2M277.5,589.0v2M304.5,589.0v2M332.5,589.0v2M360.5,589.0v2M387.5,589.0v2M415.5,589.0v2M442.5,589.0v2M472.5,589.0v2M500.5,589.0v2M527.5,589.0v2M555.5,589.0v2" stroke="#585c7e" stroke-width="1" fill="none" shape-rendering="crispEdges"/>
<text transform="translate(580.5,333.2) scale(1.02,1)" font-size="10" letter-spacing="0.25" stroke="#000" stroke-width="0.2">6500</text>
<text transform="translate(580.5,352.2) scale(1.02,1)" font-size="10" letter-spacing="0.25" stroke="#000" stroke-width="0.2">6250</text>
<text transform="translate(580.5,371.2) scale(1.02,1)" font-size="10" letter-spacing="0.25" stroke="#000" stroke-width="0.2">6000</text>
<text transform="translate(580.5,390.2) scale(1.02,1)" font-size="10" letter-spacing="0.25" stroke="#000" stroke-width="0.2">5750</text>
<text transform="translate(580.5,409.2) scale(1.02,1)" font-size="10" letter-spacing="0.25" stroke="#000" stroke-width="0.2">5500</text>
<text transform="translate(580.5,428.2) scale(1.02,1)" font-size="10" letter-spacing="0.25" stroke="#000" stroke-width="0.2">5250</text>
<text transform="translate(580.5,447.2) scale(1.02,1)" font-size="10" letter-spacing="0.25" stroke="#000" stroke-width="0.2">5000</text>
<text transform="translate(580.5,467.2) scale(1.02,1)" font-size="10" letter-spacing="0.25" stroke="#000" stroke-width="0.2">4750</text>
<text transform="translate(580.5,486.2) scale(1.02,1)" font-size="10" letter-spacing="0.25" stroke="#000" stroke-width="0.2">4500</text>
<text transform="translate(580.5,505.2) scale(1.02,1)" font-size="10" letter-spacing="0.25" stroke="#000" stroke-width="0.2">4250</text>
<text transform="translate(580.5,524.2) scale(1.02,1)" font-size="10" letter-spacing="0.25" stroke="#000" stroke-width="0.2">4000</text>
<text transform="translate(580.5,543.2) scale(1.02,1)" font-size="10" letter-spacing="0.25" stroke="#000" stroke-width="0.2">3750</text>
<text transform="translate(580.5,562.2) scale(1.02,1)" font-size="10" letter-spacing="0.25" stroke="#000" stroke-width="0.2">3500</text>
<text transform="translate(580.5,581.2) scale(1.02,1)" font-size="10" letter-spacing="0.25" stroke="#000" stroke-width="0.2">3250</text>
<text x="30.2" y="599.2" letter-spacing="0.3" text-anchor="middle" stroke="#000" stroke-width="0.15" font-size="10">Oct</text>
<text x="55.4" y="599.2" letter-spacing="0.3" text-anchor="middle" stroke="#000" stroke-width="0.15" font-weight="bold" font-size="11">21</text>
<text x="84" y="599.2" letter-spacing="0.3" text-anchor="middle" stroke="#000" stroke-width="0.15" font-size="10">Apr</text>
<text x="110.9" y="599.2" letter-spacing="0.3" text-anchor="middle" stroke="#000" stroke-width="0.15" font-size="10">Jul</text>
<text x="140.1" y="599.2" letter-spacing="0.3" text-anchor="middle" stroke="#000" stroke-width="0.15" font-size="10">Oct</text>
<text x="167" y="599.2" letter-spacing="0.3" text-anchor="middle" stroke="#000" stroke-width="0.15" font-weight="bold" font-size="11">22</text>
<text x="194.2" y="599.2" letter-spacing="0.3" text-anchor="middle" stroke="#000" stroke-width="0.15" font-size="10">Apr</text>
<text x="221.8" y="599.2" letter-spacing="0.3" text-anchor="middle" stroke="#000" stroke-width="0.15" font-size="10">Jul</text>
<text x="249.7" y="599.2" letter-spacing="0.3" text-anchor="middle" stroke="#000" stroke-width="0.15" font-size="10">Oct</text>
<text x="276.6" y="599.2" letter-spacing="0.3" text-anchor="middle" stroke="#000" stroke-width="0.15" font-weight="bold" font-size="11">23</text>
<text x="304.2" y="599.2" letter-spacing="0.3" text-anchor="middle" stroke="#000" stroke-width="0.15" font-size="10">Apr</text>
<text x="332" y="599.2" letter-spacing="0.3" text-anchor="middle" stroke="#000" stroke-width="0.15" font-size="10">Jul</text>
<text x="360.6" y="599.2" letter-spacing="0.3" text-anchor="middle" stroke="#000" stroke-width="0.15" font-size="10">Oct</text>
<text x="387.2" y="599.2" letter-spacing="0.3" text-anchor="middle" stroke="#000" stroke-width="0.15" font-weight="bold" font-size="11">24</text>
<text x="415.1" y="599.2" letter-spacing="0.3" text-anchor="middle" stroke="#000" stroke-width="0.15" font-size="10">Apr</text>
<text x="442" y="599.2" letter-spacing="0.3" text-anchor="middle" stroke="#000" stroke-width="0.15" font-size="10">Jul</text>
<text x="472.9" y="599.2" letter-spacing="0.3" text-anchor="middle" stroke="#000" stroke-width="0.15" font-size="10">Oct</text>
<text x="499.8" y="599.2" letter-spacing="0.3" text-anchor="middle" stroke="#000" stroke-width="0.15" font-weight="bold" font-size="11">25</text>
<text x="527" y="599.2" letter-spacing="0.3" text-anchor="middle" stroke="#000" stroke-width="0.15" font-size="10">Apr</text>
<text x="555.2" y="599.2" letter-spacing="0.3" text-anchor="middle" stroke="#000" stroke-width="0.15" font-size="10">Jul</text>
<path d="M124.4,479.5H183.6" stroke="#0000f0" stroke-width="1" stroke-dasharray="2.6,1.3" fill="none"/>
<path d="M278,506.5H379.6" stroke="#0000f0" stroke-width="1" stroke-dasharray="2.6,1.3" fill="none"/>
<path d="M402.4,423.5H463.6" stroke="#0000f0" stroke-width="1" stroke-dasharray="2.6,1.3" fill="none"/>
<path d="M437.4,392.5H500.2" stroke="#0000f0" stroke-width="1" stroke-dasharray="2.6,1.3" fill="none"/>
<path d="M487.4,358.5H602" stroke="#0000f0" stroke-width="1" stroke-dasharray="2.6,1.3" fill="none"/>
<path d="M157.4,509.6L155.7,495.0" stroke="#1010ff" stroke-width="1.4" fill="none"/>
<path d="M154.6,486L151,495.5L160.4,494.5Z" fill="#1010ff"/>
<path d="M351.4,536.6L357.0,520.5" stroke="#1010ff" stroke-width="1.4" fill="none"/>
<path d="M359.6,511L352,519L362,522Z" fill="#1010ff"/>
<path d="M440.4,456.4L446.0,437.8" stroke="#1010ff" stroke-width="1.4" fill="none"/>
<path d="M448,429L441,436L451,439.5Z" fill="#1010ff"/>
<path d="M471.6,420.6L474.2,406.0" stroke="#1010ff" stroke-width="1.4" fill="none"/>
<path d="M475,397L469.4,405L479,407Z" fill="#1010ff"/>
<path d="M580.4,336.5L585.7,349.5" stroke="#1010ff" stroke-width="1.4" fill="none"/>
<path d="M587.8,358.6L581,351L590.4,348Z" fill="#1010ff"/>
<rect x="534.6" y="387.6" width="41" height="3" fill="#fff" stroke="#ff0000" stroke-width="1"/>
<path d="M553.5,426.5L559.5,404.0" stroke="#ff0000" stroke-width="1.5" fill="none"/>
<path d="M561,395L555,403L564,405Z" fill="#ff0000"/>
<text x="558.8" y="424.2" font-size="15.5" font-weight="bold" fill="#ff0000">?</text>
<text x="604.2" y="350" font-size="16" font-weight="bold" fill="#1010ff">?</text>
<text transform="translate(17.2,305.90000000000003) scale(1,1.1)" font-size="13" font-weight="bold">$SPX</text>
<text x="54.3" y="305.3" font-size="10.6">S&amp;P 500 Large Cap Index</text>
<text x="183.0" y="305.3" font-size="8.6" letter-spacing="0.5">INDX</text>
<text x="16.799999999999997" y="318.0" font-size="10" letter-spacing="0.28">5-Sep-2025</text>
<text transform="translate(83.2,317.7) scale(1,1.08)" font-size="11" font-weight="bold" letter-spacing="0.3">Open</text>
<text x="115.2" y="317.7" font-size="10" letter-spacing="0.25">6401.51</text>
<text transform="translate(159.2,317.7) scale(1,1.08)" font-size="11" font-weight="bold" letter-spacing="0.3">High</text>
<text x="186.4" y="317.7" font-size="10" letter-spacing="0.25">6532.65</text>
<text transform="translate(231.4,317.7) scale(1,1.08)" font-size="11" font-weight="bold" letter-spacing="0.3">Low</text>
<text x="258.6" y="317.7" font-size="10" letter-spacing="0.25">6360.58</text>
<text transform="translate(304.2,317.7) scale(1,1.08)" font-size="11" font-weight="bold" letter-spacing="0.3">Close</text>
<text x="339" y="317.7" font-size="10" letter-spacing="0.25">6481.50</text>
<text transform="translate(384.2,317.7) scale(1,1.08)" font-size="11" font-weight="bold" letter-spacing="0.5">Volume</text>
<text x="430.4" y="317.7" font-size="10" letter-spacing="0.25">11.4B</text>
<text transform="translate(463.8,317.7) scale(1,1.08)" font-size="11" font-weight="bold" letter-spacing="0.3">Chg</text>
<text x="488.8" y="317.7" font-size="10" letter-spacing="0.25">+21.24 (+0.33%)</text>
<path d="M569.8,316.9L573.4,313L577,316.9Z" fill="#2a6a2a"/>
<text x="487.4" y="305.3" font-size="10.35" fill="#3c3424" stroke="#3c3424" stroke-width="0.25">© StockCharts.com</text>
<rect x="18" y="321" width="149" height="12.5" fill="#f5f5fc"/>
<g shape-rendering="crispEdges">
<rect x="21" y="323" width="1" height="8" fill="#000"/>
<rect x="20" y="324" width="3" height="5" fill="#000"/><rect x="21" y="325" width="1" height="3" fill="#fff"/>
<rect x="23" y="326" width="4" height="5" fill="#000"/><rect x="24" y="325" width="1" height="7" fill="#000"/>
<rect x="28" y="323" width="1" height="8" fill="#000"/>
<rect x="27" y="324" width="3" height="6" fill="#000"/><rect x="28" y="325" width="1" height="4" fill="#fff"/>
</g>
<text transform="translate(33.1,331.2)" font-size="10.5" letter-spacing="0.88">$SPX (Weekly) 6481.50</text>
<!--BOTTOM-->
</svg>
</body></html>
